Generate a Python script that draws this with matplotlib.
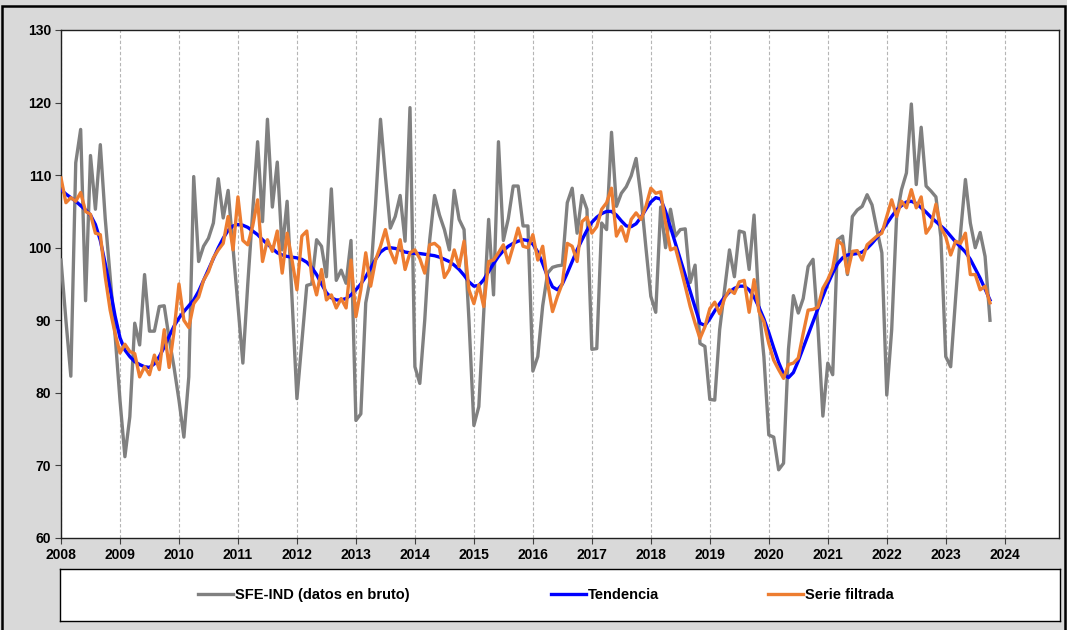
import numpy as np
import matplotlib
matplotlib.use("Agg")
import matplotlib.pyplot as plt
from matplotlib.patches import Rectangle
from matplotlib.legend import Legend

# ---------------- data (monthly, Jan 2008 - Oct 2023) ----------------
start_year = 2008
raw = [98.3, 90, 82.3, 111.7, 116.3, 92.7, 112.7, 105.3, 114.2, 104, 96, 88,
       79, 71.2, 76.7, 89.6, 86.6, 96.3, 88.5, 88.5, 91.9, 92.0, 87.5, 83.5,
       79, 73.9, 82.2, 109.8, 98.1, 100.2, 101.3, 103.4, 109.5, 104.1, 107.9, 100,
       92, 84.1, 95, 105, 114.6, 103.6, 117.7, 105.6, 111.8, 99.7, 106.4, 93,
       79.2, 87, 94.8, 95.0, 101.1, 100.2, 96, 108.1, 95.5, 96.9, 95.1, 101.0,
       76.2, 77.1, 92.4, 96, 106, 117.7, 109.9, 102.7, 104.3, 107.2, 100.9, 119.3,
       83.6, 81.3, 90, 101, 107.2, 104.5, 102.5, 99.7, 107.9, 103.9, 102.5, 90,
       75.5, 78.1, 91, 103.9, 93.5, 114.6, 101, 104, 108.5, 108.5, 103, 103,
       83, 85, 92, 96.5, 97.3, 97.5, 97.6, 106.2, 108.2, 102, 107.2, 105.3,
       86, 86.1, 103.4, 102.5, 115.9, 105.7, 107.5, 108.4, 109.9, 112.3, 107, 100,
       93.3, 91.1, 105.6, 100, 105.3, 101.6, 102.5, 102.6, 95.2, 97.6, 86.8, 86.4,
       79.1, 79.0, 88.7, 94.2, 99.7, 96, 102.3, 102.1, 97, 104.5, 92, 85,
       74.2, 73.9, 69.4, 70.3, 86, 93.4, 91, 93, 97.4, 98.4, 89, 76.8,
       84.1, 82.5, 101.1, 101.6, 96.3, 104.3, 105.2, 105.7, 107.3, 105.9, 102.5, 99.3,
       79.7, 88.7, 104.3, 108, 110.3, 119.8, 108.7, 116.6, 108.5, 107.8, 107.0, 101.5,
       85, 83.6, 93, 102, 109.4, 103.4, 100, 102.1, 98.8, 90.0]

trend = [108.0, 107.4, 106.9, 106.4, 105.8, 105.2, 104.5, 103.2, 101.0, 97.8, 94.3, 90.6,
         87.6, 85.9, 85.0, 84.3, 83.9, 83.6, 83.5, 84.0, 85.0, 86.3, 87.8, 89.2,
         90.3, 91.2, 92.0, 92.8, 94.0, 95.5, 97.0, 98.5, 100.0, 101.3, 102.4, 103.0,
         103.2, 103.1, 102.8, 102.3, 101.8, 101.1, 100.5, 99.9, 99.3, 99.0, 98.8, 98.7,
         98.6, 98.4, 98.0, 97.3, 96.3, 95.0, 93.8, 93.1, 92.8, 92.8, 93.0, 93.5,
         94.2, 95.0, 96.0, 97.2, 98.4, 99.4, 99.9, 100.0, 99.9, 99.7, 99.4, 99.3,
         99.2, 99.2, 99.1, 99.0, 98.9, 98.7, 98.4, 98.1, 97.6, 97.0, 96.2, 95.3,
         94.7, 94.8, 95.6, 96.7, 97.8, 98.8, 99.6, 100.2, 100.6, 100.9, 101.1, 101.0,
         100.5, 99.4, 97.8, 96.0, 94.6, 94.2, 95.0, 96.5, 98.1, 99.7, 101.1, 102.4,
         103.5, 104.2, 104.7, 105.0, 105.0, 104.5, 103.7, 103.0, 102.9, 103.3, 104.2, 105.3,
         106.3, 106.9, 106.7, 105.0, 102.8, 100.6, 98.4, 96.2, 94.0, 91.8, 89.6, 89.3,
         90.2, 91.3, 92.3, 93.2, 93.9, 94.4, 94.7, 94.7, 94.2, 93.2, 91.8, 90.2,
         88.3, 86.2, 84.2, 82.6, 82.1, 82.8, 84.4, 86.2, 88.0, 89.8, 91.6, 93.3,
         95.0, 96.5, 97.8, 98.6, 99.0, 99.1, 99.2, 99.4, 99.9, 100.6, 101.4, 102.3,
         103.3, 104.3, 105.2, 105.8, 106.3, 106.4, 106.1, 105.5, 104.9, 104.2, 103.6, 103.0,
         102.4, 101.6, 100.8, 100.1, 99.4, 98.4, 97.1, 95.8, 94.3, 92.8]

filtered = [109.6, 106.2, 106.9, 106.4, 107.6, 105, 104.6, 102, 101.8, 96, 91.4, 88.2,
            85.5, 86.7, 85.7, 85.4, 82.2, 83.6, 82.5, 85.2, 83.2, 88.7, 83.5, 88.5,
            95, 90, 89, 92.3, 93.2, 95.5, 96.7, 98.6, 99.7, 100.6, 104.3, 99.7,
            107, 101, 100.4, 103, 106.6, 98.1, 101.1, 99.5, 102.3, 96.5, 102, 98.3,
            94.2, 101.6, 102.3, 96.1, 93.5, 97, 92.8, 93.5, 91.7, 93, 91.7, 98.3,
            90.5, 94.2, 99.3, 94.7, 98.3, 100.2, 102.5, 99.5, 97.9, 101.1, 97, 99.3,
            99.7, 98.5, 96.5, 100.4, 100.6, 100, 95.9, 97, 99.7, 97.4, 100.9, 94.2,
            92.3, 94.9, 91.9, 98.1, 98.3, 99.3, 100.4, 97.9, 100.2, 102.7, 100.2, 100,
            101.8, 98.3, 100.2, 95.1, 91.2, 93.3, 95.1, 100.6, 100.2, 98.1, 103.6, 104.2,
            102, 102.9, 105.3, 106.2, 108.2, 101.6, 102.9, 100.9, 103.9, 104.8, 103.9, 105.7,
            108.2, 107.5, 107.7, 103.4, 99.7, 100, 97.4, 94.7, 91.9, 89.6, 87.5, 89.1,
            91.6, 92.5, 90.9, 93, 94.2, 93.7, 95.3, 95.5, 91.1, 95.6, 91.2, 89.8,
            86.8, 84.5, 83.2, 82, 83.9, 84.1, 84.8, 88.2, 91.4, 91.5, 91.8, 94.4,
            95.6, 97.2, 101, 100.4, 96.5, 99.5, 99.6, 98.3, 100.4, 101, 101.6, 102,
            104.3, 106.6, 104.3, 106.4, 105.5, 108, 105.5, 107, 102, 103, 106, 102.8,
            101.5, 99, 100.9, 100.6, 102, 96.3, 96.3, 94.2, 94.7, 92.4]

years = list(range(2008, 2025))
yticks = list(range(60, 131, 10))
labels = ["SFE-IND (datos en bruto)", "Tendencia", "Serie filtrada"]
colors = ["#808080", "#0000ff", "#ed7d31"]

plt.rcParams["font.family"] = ["Liberation Sans", "DejaVu Sans"]

# ---------------- figure ----------------
W, H = 1067, 630
fig = plt.figure(figsize=(W / 100, H / 100), dpi=100, facecolor="#d9d9d9")
fig.patches.append(Rectangle((0.002, -0.01), 0.996, 1.0, transform=fig.transFigure,
                             fill=False, edgecolor="black", linewidth=1.8))

ax = fig.add_axes([61 / W, 1 - 538 / H, (1059 - 61) / W, (538 - 30) / H])
ax.set_facecolor("white")

x = start_year + np.arange(len(raw)) / 12.0
l1, = ax.plot(x, raw, color=colors[0], lw=2.4, zorder=3)
l2, = ax.plot(x, trend, color=colors[1], lw=2.4, zorder=4)
l3, = ax.plot(x, filtered, color=colors[2], lw=2.4, zorder=5)

ax.set_xlim(2008, 2024.92)
ax.set_ylim(60, 130)
ax.set_xticks(years)
ax.set_yticks(yticks)
ax.set_xticklabels([str(y) for y in years], fontsize=10, fontweight="bold")
ax.set_yticklabels([str(v) for v in yticks], fontsize=10, fontweight="bold")
ax.tick_params(axis="both", direction="out", length=4, width=0.8, color="#404040", pad=3)
ax.xaxis.grid(True, color="#b5b5b5", linestyle=(0, (3, 2)), linewidth=0.8)
ax.yaxis.grid(False)
ax.set_axisbelow(True)
for s in ax.spines.values():
    s.set_color("#202020")
    s.set_linewidth(1.0)

# ---------------- legend box ----------------
lax = fig.add_axes([60 / W, 1 - 621 / H, (1060 - 60) / W, (621 - 569) / H])
lax.set_xticks([])
lax.set_yticks([])
lax.set_facecolor("white")
for s in lax.spines.values():
    s.set_color("black")
    s.set_linewidth(1.0)

anchors = [0.138, 0.491, 0.708]
for handle, lab, ax_x in zip([l1, l2, l3], labels, anchors):
    lg = Legend(lax, [handle], [lab], loc="center left", bbox_to_anchor=(ax_x, 0.5),
                frameon=False, handlelength=2.4, handletextpad=0.15,
                borderpad=0, borderaxespad=0,
                prop={"weight": "bold", "size": 10.5})
    lax.add_artist(lg)

fig.savefig("out.png", dpi=100, facecolor=fig.get_facecolor())
